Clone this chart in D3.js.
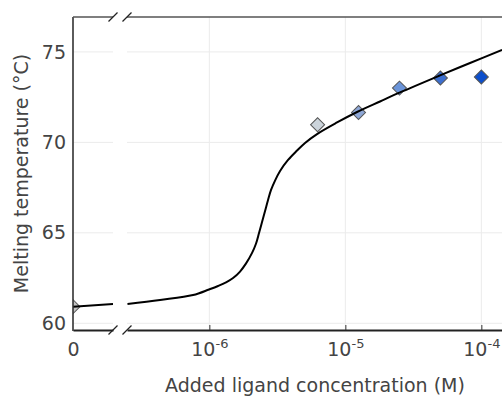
<!DOCTYPE html>
<html lang="en">
<head>
  <meta charset="UTF-8" />
  <title>Melting temperature vs added ligand</title>
  <script src="https://cdn.jsdelivr.net/npm/d3@7"></script>
  <style>
    html, body { margin: 0; padding: 0; background: #fff; overflow: hidden; }
    svg { display: block; font-family: "DejaVu Sans", Verdana, sans-serif; }
  </style>
</head>
<body>
  <script>
    // ----------------------------
    // Data
    // ----------------------------
    const concentrations = [0, 6.25e-6, 1.25e-5, 2.5e-5, 5e-5, 1e-4];
    const meltingTemps   = [60.92, 70.97, 71.65, 73.0, 73.56, 73.61];
    const markerColors   = ["#c4c4c4", "#ccd4db", "#8ea7d6", "#6a94d9", "#3c6fd0", "#0d4fcb"];

    // fitted curve
    const fitConc = [0, 2.5e-7, 4.34e-7, 7.59e-7, 9.95e-7, 1.159e-6, 1.327e-6, 1.494e-6,
                     1.681e-6, 1.862e-6, 2.061e-6, 2.205e-6, 2.319e-6, 2.44e-6, 2.568e-6,
                     2.701e-6, 2.842e-6, 3.041e-6, 3.311e-6, 3.791e-6, 4.415e-6, 5.054e-6,
                     6.192e-6, 8.69e-6, 1.219e-5, 1.799e-5, 2.524e-5, 4.968e-5, 8.259e-5, 1.42e-4];
    const fitTm   = [60.92, 61.07, 61.29, 61.56, 61.87, 62.06, 62.26, 62.50,
                     62.86, 63.31, 63.89, 64.41, 64.99, 65.60, 66.21,
                     66.82, 67.37, 67.89, 68.42, 69.03, 69.55, 69.97,
                     70.46, 71.10, 71.68, 72.26, 72.76, 73.70, 74.39, 75.11];

    const yTicks = [60, 65, 70, 75];
    const xLogTicks = [1e-6, 1e-5, 1e-4];
    const xLogTickExponents = ["-6", "-5", "-4"];
    const xZeroTicks = [0];

    // ----------------------------
    // Layout
    // ----------------------------
    const width = 502, height = 396;
    const plotTop = 17, plotBottom = 330, plotLeft = 73;
    const leftPanel = [73, 113];   // the "0" panel
    const rightPanel = [127, 557]; // log panel (runs off the right edge)
    const textColor = "#444";
    const gridColor = "#ebebeb";
    const fontFamily = "DejaVu Sans, Verdana, sans-serif";

    const svg = d3.select("body").append("svg")
      .attr("width", width)
      .attr("height", height);

    const xZero = d3.scaleLinear().domain([0, 2.5e-7]).range(leftPanel);
    const xLog = d3.scaleLog().domain([2.48e-7, 3.6e-4]).range(rightPanel);
    const y = d3.scaleLinear().domain([59.63, 76.93]).range([plotBottom, plotTop]);

    const defs = svg.append("defs");
    defs.append("clipPath").attr("id", "clip-left")
      .append("rect").attr("x", leftPanel[0]).attr("y", plotTop)
      .attr("width", leftPanel[1] - leftPanel[0]).attr("height", plotBottom - plotTop);
    defs.append("clipPath").attr("id", "clip-right")
      .append("rect").attr("x", rightPanel[0]).attr("y", plotTop)
      .attr("width", rightPanel[1] - rightPanel[0]).attr("height", plotBottom - plotTop);

    // ----------------------------
    // Grid
    // ----------------------------
    const grid = svg.append("g").attr("stroke", gridColor).attr("stroke-width", 1);
    [leftPanel, rightPanel].forEach(p => {
      grid.selectAll(null).data(yTicks).enter().append("line")
        .attr("x1", p[0]).attr("x2", p[1])
        .attr("y1", d => y(d)).attr("y2", d => y(d));
    });
    grid.selectAll(null).data(xLogTicks).enter().append("line")
      .attr("x1", d => xLog(d)).attr("x2", d => xLog(d))
      .attr("y1", plotTop).attr("y2", plotBottom);

    // ----------------------------
    // Fit curve and markers
    // ----------------------------
    const fit = fitConc.map((c, i) => ({ c, t: fitTm[i] }));
    const pts = concentrations.map((c, i) => ({ c, t: meltingTemps[i], col: markerColors[i] }));
    const diamond = d3.symbol(d3.symbolSquare, 98);

    const gL = svg.append("g").attr("clip-path", "url(#clip-left)");
    const gR = svg.append("g").attr("clip-path", "url(#clip-right)");

    gL.selectAll(null).data(pts.filter(d => d.c <= 2.5e-7)).enter().append("path")
      .attr("d", diamond)
      .attr("transform", d => `translate(${xZero(d.c)},${y(d.t)}) rotate(45)`)
      .attr("fill", d => d.col).attr("stroke", "#555").attr("stroke-width", 1);
    gR.selectAll(null).data(pts.filter(d => d.c > 0)).enter().append("path")
      .attr("d", diamond)
      .attr("transform", d => `translate(${xLog(d.c)},${y(d.t)}) rotate(45)`)
      .attr("fill", d => d.col).attr("stroke", "#555").attr("stroke-width", 1);

    gL.append("path")
      .datum(fit.filter(d => d.c <= 2.5e-7))
      .attr("fill", "none").attr("stroke", "#000").attr("stroke-width", 2)
      .attr("d", d3.line().x(d => xZero(d.c)).y(d => y(d.t)));
    gR.append("path")
      .datum(fit.filter(d => d.c >= 2.5e-7))
      .attr("fill", "none").attr("stroke", "#000").attr("stroke-width", 2)
      .attr("d", d3.line().x(d => xLog(d.c)).y(d => y(d.t)).curve(d3.curveCatmullRom.alpha(0.5)));

    // ----------------------------
    // Axes
    // ----------------------------
    const yAxis = svg.append("g")
      .attr("transform", `translate(${plotLeft},0)`)
      .call(d3.axisLeft(y).tickValues(yTicks).tickSize(0).tickPadding(7));
    yAxis.select(".domain").remove();
    yAxis.selectAll("text").attr("font-size", 19).attr("fill", textColor)
      .attr("font-family", fontFamily);

    const xAxisZero = svg.append("g")
      .attr("transform", `translate(0,${plotBottom})`)
      .call(d3.axisBottom(xZero).tickValues(xZeroTicks).tickSize(0).tickPadding(12.5)
        .tickFormat(d3.format("d")));
    xAxisZero.select(".domain").attr("stroke", "#222").attr("stroke-width", 1.8);
    xAxisZero.selectAll("text").attr("font-size", 19).attr("fill", textColor)
      .attr("font-family", fontFamily);

    const xAxisLog = svg.append("g")
      .attr("transform", `translate(0,${plotBottom})`)
      .call(d3.axisBottom(xLog).tickValues(xLogTicks).tickSizeInner(-5).tickSizeOuter(0)
        .tickPadding(12.5).tickFormat(""));
    xAxisLog.select(".domain").attr("stroke", "#222").attr("stroke-width", 1.8);
    xAxisLog.selectAll(".tick line").attr("stroke", "#333");
    xAxisLog.selectAll(".tick text")
      .attr("font-size", 19).attr("fill", textColor)
      .attr("font-family", fontFamily)
      .each(function (d, i) {
        const t = d3.select(this).text(null);
        t.append("tspan").text("10");
        t.append("tspan").attr("font-size", 13).attr("dy", "-0.62em").text(xLogTickExponents[i]);
      });

    // left and top frame lines
    svg.append("line")
      .attr("x1", plotLeft).attr("x2", plotLeft).attr("y1", plotTop).attr("y2", plotBottom + 0.9)
      .attr("stroke", "#333").attr("stroke-width", 1.6);
    [leftPanel, rightPanel].forEach(p => {
      svg.append("line")
        .attr("x1", p[0]).attr("x2", p[1]).attr("y1", plotTop).attr("y2", plotTop)
        .attr("stroke", "#555").attr("stroke-width", 1.6);
    });

    // axis-break slashes
    [plotTop, plotBottom].forEach(yy => {
      [leftPanel[1], rightPanel[0]].forEach(xx => {
        svg.append("line")
          .attr("x1", xx - 4.5).attr("y1", yy + 4.5)
          .attr("x2", xx + 4.5).attr("y2", yy - 4.5)
          .attr("stroke", "#222").attr("stroke-width", 1.3);
      });
    });

    // ----------------------------
    // Axis titles
    // ----------------------------
    svg.append("text")
      .attr("transform", `translate(28,${(plotTop + plotBottom) / 2}) rotate(-90)`)
      .attr("text-anchor", "middle")
      .attr("font-size", 19).attr("fill", textColor)
      .text("Melting temperature (°C)");

    svg.append("text")
      .attr("x", (plotLeft + rightPanel[1]) / 2).attr("y", 392)
      .attr("text-anchor", "middle")
      .attr("font-size", 19).attr("fill", textColor)
      .text("Added ligand concentration (M)");
  </script>
</body>
</html>
